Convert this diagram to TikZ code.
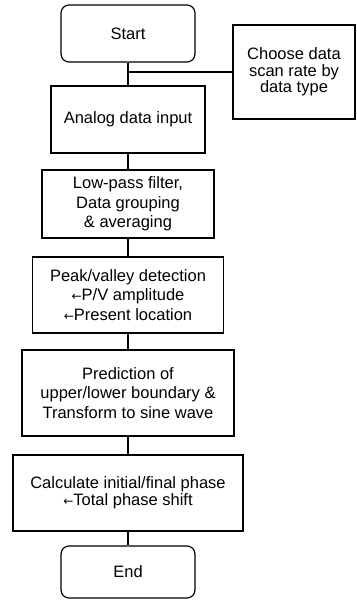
\documentclass[tikz,border=0pt]{standalone}
\usepackage{fontspec}
\setmainfont{Liberation Sans}
\newfontfamily\arrowfont{DejaVu Sans}
\newcommand{\larr}{{\arrowfont\fontsize{12}{12}\selectfont ←}}
\begin{document}
\begin{tikzpicture}[x=1pt,y=1pt,
  box/.style={draw,line width=1.2pt,inner sep=0pt,align=center,
    font=\fontsize{16.5}{19.5}\selectfont},
  term/.style={box,rounded corners=8pt},
  link/.style={line width=1.2pt}]
\useasboundingbox (0,0) rectangle (356,-601);
\node[term,minimum width=134,minimum height=57] (start) at (128,-33.5) {Start};
\node[box,minimum width=122,minimum height=94,font=\fontsize{16.5}{16.5}\selectfont] (side) at (294,-72) {Choose data\\scan rate by\\data type};
\node[box,minimum width=154,minimum height=67] (analog) at (128,-119.5) {Analog data input};
\node[box,minimum width=172,minimum height=68] (low) at (128,-204) {Low-pass filter,\\Data grouping\\\& averaging};
\node[box,minimum width=191,minimum height=76] (peak) at (128,-295) {Peak/valley detection\\\larr P/V amplitude\\\larr Present location};
\node[box,minimum width=212,minimum height=86] (pred) at (128,-393) {Prediction of\\upper/lower boundary \&\\Transform to sine wave};
\node[box,minimum width=230,minimum height=76,font=\fontsize{16.5}{17}\selectfont] (calc) at (128,-493) {Calculate initial/final phase\\\larr Total phase shift};
\node[term,minimum width=134,minimum height=52] (end) at (128,-572) {End};
\draw[link] (start.south) -- (analog.north);
\draw[link] (start.south) |- (side.west);
\draw[link] (analog.south) -- (low.north);
\draw[link] (low.south) -- (peak.north);
\draw[link] (peak.south) -- (pred.north);
\draw[link] (pred.south) -- (calc.north);
\draw[link] (calc.south) -- (end.north);
\end{tikzpicture}
\end{document}
